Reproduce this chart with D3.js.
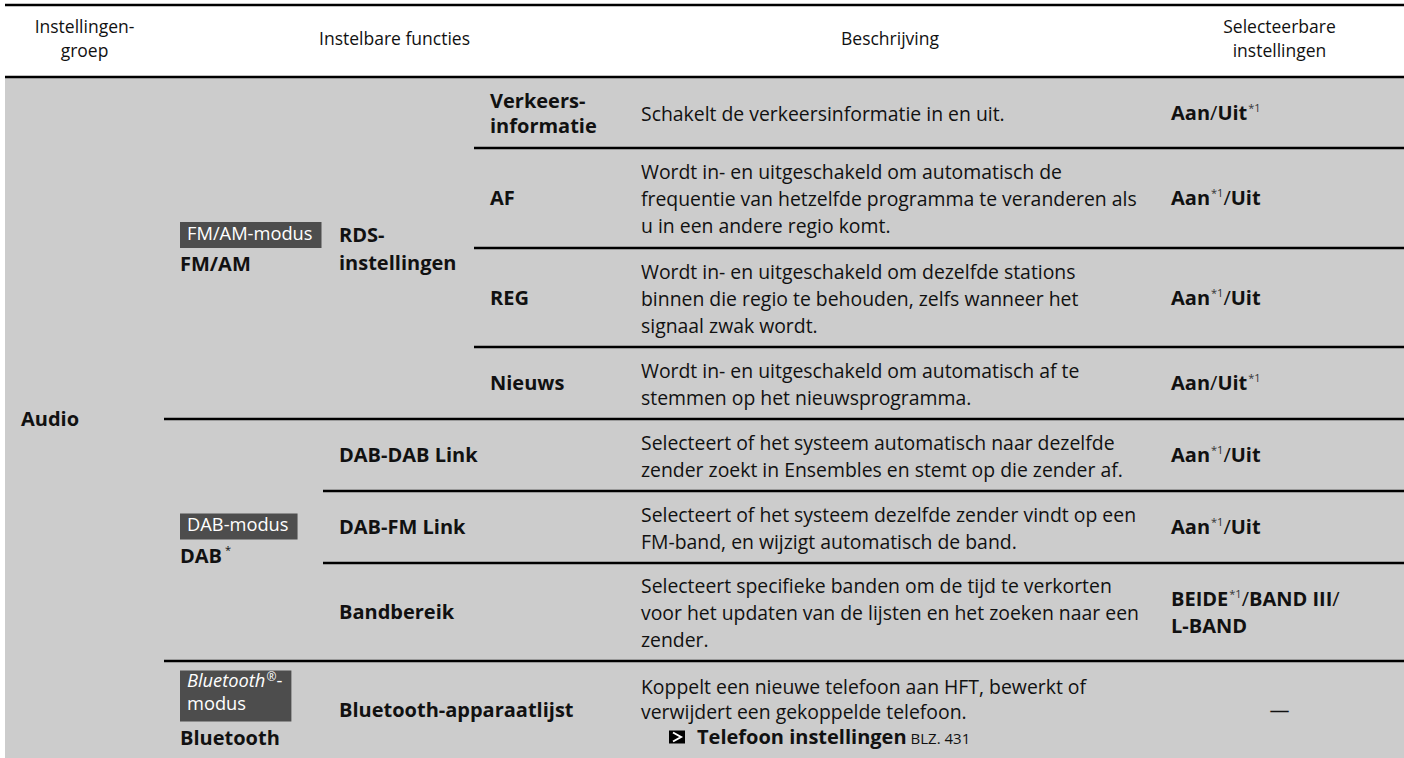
<!DOCTYPE html>
<html><head><meta charset="utf-8">
<script src="https://cdn.jsdelivr.net/npm/d3@7"></script>
<style>
html,body{margin:0;padding:0;background:#fff;}
svg{display:block;font-family:"Open Sans","Noto Sans",sans-serif;}
</style>
</head><body>
<svg id="c" width="1404" height="758"></svg>
<script>
// ---------- DATA ----------
const columnHeaders = [["Instellingen-","groep"],["Instelbare functies"],["Beschrijving"],["Selecteerbare","instellingen"]];
const settingGroups = ["Audio"];
const modeBadges = [["FM/AM-modus"],["DAB-modus"],["Bluetooth®-","modus"]];
const modeNames = ["FM/AM","DAB","Bluetooth"];
const modeStars = [false,true,false];
const functionNames = [["RDS-","instellingen"],["DAB-DAB Link"],["DAB-FM Link"],["Bandbereik"],["Bluetooth-apparaatlijst"]];
const rdsItems = [["Verkeers-","informatie"],["AF"],["REG"],["Nieuws"]];
const descriptions = [
  ["Schakelt de verkeersinformatie in en uit."],
  ["Wordt in- en uitgeschakeld om automatisch de","frequentie van hetzelfde programma te veranderen als","u in een andere regio komt."],
  ["Wordt in- en uitgeschakeld om dezelfde stations","binnen die regio te behouden, zelfs wanneer het","signaal zwak wordt."],
  ["Wordt in- en uitgeschakeld om automatisch af te","stemmen op het nieuwsprogramma."],
  ["Selecteert of het systeem automatisch naar dezelfde","zender zoekt in Ensembles en stemt op die zender af."],
  ["Selecteert of het systeem dezelfde zender vindt op een","FM-band, en wijzigt automatisch de band."],
  ["Selecteert specifieke banden om de tijd te verkorten","voor het updaten van de lijsten en het zoeken naar een","zender."],
  ["Koppelt een nieuwe telefoon aan HFT, bewerkt of","verwijdert een gekoppelde telefoon."]
];
const crossRefTitle = "Telefoon instellingen";
const crossRefPage = "BLZ. 431";
// segments: [text, style]  b = bold, r = regular, s = superscript
const settingValues = [
  [[["Aan","b"],["/","r"],["Uit","b"],["*1","s"]]],
  [[["Aan","b"],["*1","s"],["/","r"],["Uit","b"]]],
  [[["Aan","b"],["*1","s"],["/","r"],["Uit","b"]]],
  [[["Aan","b"],["/","r"],["Uit","b"],["*1","s"]]],
  [[["Aan","b"],["*1","s"],["/","r"],["Uit","b"]]],
  [[["Aan","b"],["*1","s"],["/","r"],["Uit","b"]]],
  [[["BEIDE","b"],["*1","s"],["/","r"],["BAND III","b"],["/","r"]],[["L-BAND","b"]]],
  [[["—","r"]]]
];

// ---------- LAYOUT ----------
const W = 1404, H = 758;
const rowEdges = [78,148,248,347,419,491,563,661,758];
const colEdges = [5,164,323,474,625,1155,1404];
const modeSpans = [[0,3],[4,6],[7,7]];
const funcSpans = [[0,3],[4,4],[5,5],[6,6],[7,7]];
const FS_DESC = 19.4, FS_BOLD = 20, FS_HEAD = 17.5, FS_BADGE = 18.3;
const INK = "#111";

const svg = d3.select("#c");
const y = d3.scaleOrdinal().domain(d3.range(8)).range(d3.range(8).map(i => (rowEdges[i]+rowEdges[i+1])/2));
const spanMid = s => (rowEdges[s[0]] + rowEdges[s[1]+1]) / 2;

// background
svg.append("rect").attr("x",colEdges[0]).attr("y",rowEdges[0]).attr("width",W-colEdges[0]).attr("height",H-rowEdges[0]).attr("fill","#cccccc");

// rules
const rules = [{y:5, x0:colEdges[0]}, {y:77, x0:colEdges[0]}];
for (let i = 1; i < rowEdges.length-1; i++) {
  let x0;
  if (i === 4 || i === 7) x0 = colEdges[1];
  else if (i < 4) x0 = colEdges[3];
  else x0 = colEdges[2];
  rules.push({y: rowEdges[i], x0});
}
svg.selectAll("line.rule").data(rules).join("line").attr("class","rule")
  .attr("x1",d=>d.x0).attr("x2",W).attr("y1",d=>d.y).attr("y2",d=>d.y)
  .attr("stroke","#000").attr("stroke-width",2.5);

// multiline helper (one text element per line)
function multi(g, lines, x, cy, lh, fs, opts={}) {
  const n = lines.length;
  lines.forEach((ln,i)=>{
    if (!ln) return;
    g.append("text").attr("font-size",fs).attr("fill",opts.fill||INK)
      .attr("font-weight",opts.weight||400).attr("text-anchor",opts.anchor||"start")
      .attr("x",x).attr("y",cy - (n-1)*lh/2 + i*lh + (opts.k!=null?opts.k:0.36*fs)).text(ln);
  });
}

// header
const headCenters = [(colEdges[0]+colEdges[1])/2,(colEdges[1]+colEdges[4])/2,(colEdges[4]+colEdges[5])/2,(colEdges[5]+colEdges[6])/2];
columnHeaders.forEach((h,i)=>multi(svg,h,headCenters[i],39,24,FS_HEAD,{anchor:"middle",k:6}));

// group
multi(svg, settingGroups, 21, spanMid([0,7]), 27, FS_BOLD, {weight:700, k:8});

// modes (badge + name)
modeSpans.forEach((s,i)=>{
  const lines = modeBadges[i];
  const boxH = lines.length === 1 ? 26 : 51;
  const top = spanMid(s) - (boxH + 27)/2;
  const g = svg.append("g");
  const box = g.append("rect").attr("x",180).attr("y",top).attr("height",boxH).attr("fill","#4d4d4d");
  let maxW = 0;
  lines.forEach((ln,j)=>{
    const t = g.append("text").attr("font-size",FS_BADGE).attr("fill","#fff")
      .attr("x",187).attr("y", top + (lines.length===1?17.5:16+j*23));
    if (ln.startsWith("Bluetooth")) {
      t.append("tspan").attr("font-style","italic").text("Bluetooth");
      t.append("tspan").attr("font-size",12).attr("dx",1).attr("dy",-6).text("®");
      t.append("tspan").attr("dy",6).text("-");
    } else t.text(ln);
    maxW = Math.max(maxW, t.node().getBBox().width);
  });
  box.attr("width", maxW + 16);
  const nt = g.append("text").attr("x",180).attr("y",top+boxH+23).attr("font-size",FS_BOLD).attr("font-weight",700).attr("fill",INK).text(modeNames[i]);
  if (modeStars[i]) nt.append("tspan").attr("font-size",11).attr("font-weight",400).attr("dx",3).attr("dy",-9).text("*");
});

// functions
funcSpans.forEach((s,i)=>multi(svg,functionNames[i],339,spanMid(s),28,FS_BOLD,{weight:700,k:7}));

// RDS sub items
rdsItems.forEach((r,i)=>multi(svg,r,490,y(i),25,FS_BOLD,{weight:700,k:7}));

// descriptions
descriptions.forEach((d,i)=>{
  if (i === 7) {
    const lh = 25, cy = y(i), n = 3;
    multi(svg,d.concat([""]),641,cy,lh,FS_DESC,{k:9});
    const by = cy - (n-1)*lh/2 + 2*lh + 9;
    svg.append("rect").attr("x",669).attr("y",by-13).attr("width",16).attr("height",13).attr("fill","#000");
    svg.append("path").attr("d",`M${673},${by-11} L${681},${by-6.5} L${673},${by-2}`).attr("fill","none").attr("stroke","#fff").attr("stroke-width",2);
    const t = svg.append("text").attr("x",697).attr("y",by).attr("fill",INK);
    t.append("tspan").attr("font-size",FS_BOLD).attr("font-weight",700).text(crossRefTitle);
    t.append("tspan").attr("font-size",15).attr("dx",4).text(crossRefPage);
  } else {
    multi(svg,d,641,y(i),27,FS_DESC,{k:8});
  }
});

// settings
settingValues.forEach((lines,i)=>{
  const n = lines.length, lh = 27;
  lines.forEach((segs,j)=>{
    const by = y(i) - (n-1)*lh/2 + j*lh + 7;
    const isDash = segs.length===1 && segs[0][0]==="—";
    const t = svg.append("text").attr("x", isDash ? (colEdges[5]+colEdges[6])/2 : 1171).attr("y",by)
      .attr("fill",INK).attr("font-size",FS_BOLD).attr("text-anchor", isDash?"middle":"start");
    let raised = false;
    segs.forEach(([txt,st])=>{
      const ts = t.append("tspan").text(txt);
      if (st==="b") ts.attr("font-weight",700);
      if (st==="s") { ts.attr("font-size",11).attr("fill","#333").attr("dy",-8).attr("dx",1); raised = true; }
      else if (raised) { ts.attr("dy",8); raised = false; }
    });
  });
});
</script>
</body></html>
